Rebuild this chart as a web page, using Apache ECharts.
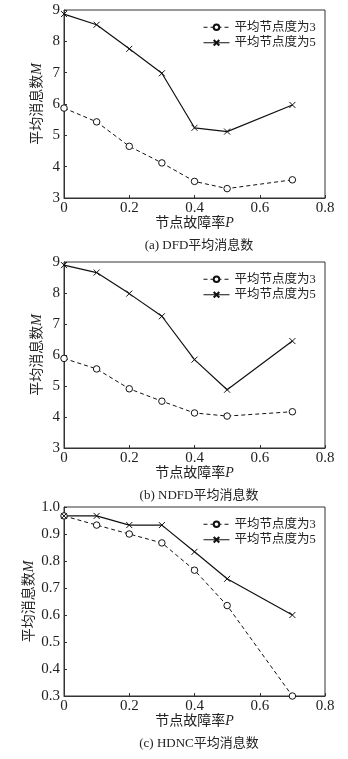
<!DOCTYPE html>
<html lang="zh">
<head>
  <meta charset="UTF-8">
  <title>平均消息数</title>
  <script src="https://cdn.jsdelivr.net/npm/echarts@6/dist/echarts.min.js"></script>
  <style>
    body { margin: 0; background: #fff; }
    #main { width: 348px; height: 759px; }
  </style>
</head>
<body>
  <div id="main"></div>
  <script>
    // 横轴：节点故障率P
    var failRate = [0, 0.1, 0.2, 0.3, 0.4, 0.5, 0.7];
    var seriesNames = ['平均节点度为3', '平均节点度为5'];
    // (a) DFD
    var dfdDeg3 = [5.87, 5.43, 4.65, 4.12, 3.53, 3.30, 3.58];
    var dfdDeg5 = [8.87, 8.53, 7.76, 6.98, 5.24, 5.12, 5.97];
    // (b) NDFD
    var ndfdDeg3 = [5.89, 5.55, 4.91, 4.51, 4.13, 4.03, 4.17];
    var ndfdDeg5 = [8.90, 8.66, 7.98, 7.25, 5.85, 4.88, 6.45];
    // (c) HDNC
    var hdncDeg3 = [0.967, 0.933, 0.900, 0.867, 0.766, 0.635, 0.300];
    var hdncDeg5 = [0.967, 0.967, 0.933, 0.933, 0.834, 0.734, 0.600];
    var captions = ['(a) DFD平均消息数', '(b) NDFD平均消息数', '(c) HDNC平均消息数'];

    var font = "'Liberation Serif', 'Noto Sans CJK SC', serif";
    var ink = '#222';
    var crossPath = 'path://M0,0L10,10M10,0L0,10';

    var grids = [
      { top: 10, height: 188 },
      { top: 262, height: 186 },
      { top: 507, height: 189 }
    ];
    var yRanges = [
      { min: 3, max: 9, interval: 1, gap: 20, dec: 0 },
      { min: 3, max: 9, interval: 1, gap: 20, dec: 0 },
      { min: 0.3, max: 1.0, interval: 0.1, gap: 28, dec: 1 }
    ];
    var allData = [[dfdDeg3, dfdDeg5], [ndfdDeg3, ndfdDeg5], [hdncDeg3, hdncDeg5]];

    function pairs(ys) {
      return failRate.map(function (x, i) { return [x, ys[i]]; });
    }

    var option = {
      backgroundColor: '#fff',
      animation: false,
      textStyle: { fontFamily: font, color: ink },
      title: [],
      legend: [],
      grid: [],
      xAxis: [],
      yAxis: [],
      series: []
    };

    grids.forEach(function (g, k) {
      option.grid.push({
        left: 64, right: 23, top: g.top, height: g.height,
        show: true, borderColor: '#333', borderWidth: 1
      });
      option.xAxis.push({
        type: 'value', gridIndex: k, min: 0, max: 0.8, interval: 0.2,
        name: '节点故障率{i|P}', nameLocation: 'middle', nameGap: 18,
        nameMoveOverlap: false,
        nameTextStyle: {
          fontFamily: font, fontSize: 14, color: ink, verticalAlign: 'top',
          rich: { i: { fontStyle: 'italic', fontFamily: font, fontSize: 14, color: ink } }
        },
        axisLine: { lineStyle: { color: '#333' } },
        axisTick: { inside: true, length: 3, lineStyle: { color: '#333' } },
        axisLabel: {
          fontFamily: font, fontSize: 15, color: ink, margin: 3,
          formatter: function (v) { return v === 0 ? '0' : v.toFixed(1); }
        },
        splitLine: { show: false }
      });
      var r = yRanges[k];
      option.yAxis.push({
        type: 'value', gridIndex: k, min: r.min, max: r.max, interval: r.interval,
        name: '平均消息数{i|M}', nameLocation: 'middle', nameGap: r.gap, nameRotate: 90,
        nameMoveOverlap: false,
        nameTextStyle: {
          fontFamily: font, fontSize: 14, color: ink,
          rich: { i: { fontStyle: 'italic', fontFamily: font, fontSize: 14, color: ink } }
        },
        axisLine: { lineStyle: { color: '#333' } },
        axisTick: { inside: true, length: 3, lineStyle: { color: '#333' } },
        axisLabel: {
          fontFamily: font, fontSize: 15, color: ink, margin: 4,
          formatter: function (v) { return v.toFixed(r.dec); }
        },
        splitLine: { show: false }
      });
      option.legend.push({
        orient: 'vertical', left: 198, top: g.top + 6,
        itemWidth: 26, itemHeight: 7, itemGap: 3,
        lineStyle: { width: 1 },
        textStyle: { fontFamily: font, fontSize: 12.5, color: ink },
        data: [seriesNames[0] + ' ' + k, seriesNames[1] + ' ' + k],
        formatter: function (n) { return n.replace(/ \d$/, ''); }
      });
      option.title.push({
        text: captions[k], left: 194, textAlign: 'center',
        top: g.top + g.height + 36,
        textStyle: { fontFamily: font, fontSize: 13, fontWeight: 'normal', color: ink }
      });
      option.series.push({
        name: seriesNames[0] + ' ' + k, type: 'line',
        xAxisIndex: k, yAxisIndex: k,
        data: pairs(allData[k][0]),
        symbol: 'circle', symbolSize: 6.5,
        lineStyle: { color: '#111', width: 1, type: [4, 3] },
        itemStyle: { color: '#fff', borderColor: '#111', borderWidth: 1 }
      });
      option.series.push({
        name: seriesNames[1] + ' ' + k, type: 'line',
        xAxisIndex: k, yAxisIndex: k,
        data: pairs(allData[k][1]),
        symbol: crossPath, symbolSize: 6,
        lineStyle: { color: '#111', width: 1.2 },
        itemStyle: { color: '#111', borderColor: '#111', borderWidth: 1 }
      });
    });

    var myChart = echarts.init(document.getElementById('main'));
    myChart.setOption(option);
  </script>
</body>
</html>
